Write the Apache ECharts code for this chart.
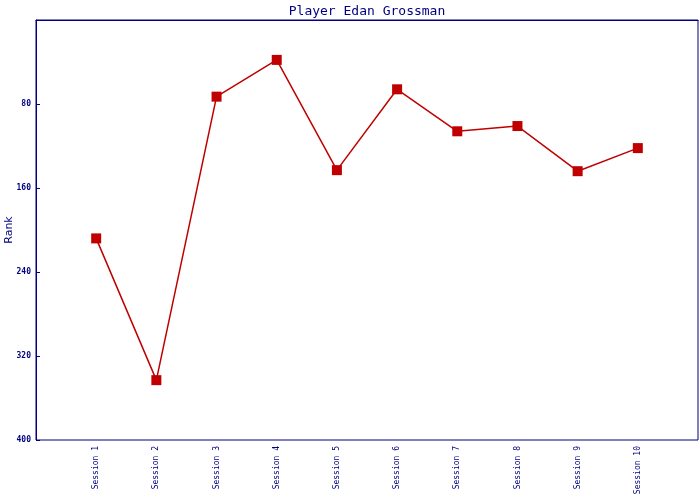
<!DOCTYPE html>
<html><head><meta charset="utf-8">
<script src="https://cdn.jsdelivr.net/npm/echarts@6/dist/echarts.min.js"></script>
<style>html,body{margin:0;padding:0;background:#fff}#c{width:700px;height:500px}</style>
</head><body><div id="c"></div>
<script>
var titleText = 'Player Edan Grossman';
var categories = ['', 'Session 1', 'Session 2', 'Session 3', 'Session 4', 'Session 5', 'Session 6', 'Session 7', 'Session 8', 'Session 9', 'Session 10', ''];
var rankValues = [null, 208, 343, 73, 38, 143, 66, 106, 101, 144, 122, null];
var yName = 'Rank';
var navy = '#000080';
var chart = echarts.init(document.getElementById('c'), null, {renderer: 'canvas'});
chart.setOption({
  animation: false,
  backgroundColor: '#fff',
  title: {text: titleText, left: 362, textAlign: 'center', top: 0,
    textStyle: {fontFamily: 'DejaVu Sans Mono', fontSize: 13, fontWeight: 'normal', color: navy}},
  grid: {left: 36, right: 2, top: 20, bottom: 60, containLabel: false, outerBoundsMode: 'none',
    show: true, borderColor: navy, borderWidth: 1, backgroundColor: '#fff'},
  xAxis: {type: 'category', data: categories, boundaryGap: false,
    axisLine: {lineStyle: {color: navy, width: 1}},
    axisTick: {show: false},
    splitLine: {show: false},
    axisLabel: {rotate: 90, interval: 0, margin: 6, color: navy, fontFamily: 'DejaVu Sans Mono', fontSize: 8}},
  yAxis: {type: 'value', inverse: true, min: 0, max: 400, interval: 80,
    name: yName, nameLocation: 'middle', nameGap: 21, nameRotate: 90, nameMoveOverlap: false,
    nameTextStyle: {color: navy, fontFamily: 'DejaVu Sans', fontSize: 11},
    axisLine: {show: true, lineStyle: {color: navy, width: 1}},
    axisTick: {show: true, inside: true, length: 4, lineStyle: {color: navy}},
    splitLine: {show: false},
    axisLabel: {showMinLabel: false, margin: 5, color: navy, fontFamily: 'DejaVu Sans Mono', fontSize: 8, fontWeight: 'bold'}},
  series: [{type: 'line', data: rankValues, symbol: 'rect', symbolSize: 10,
    lineStyle: {color: '#c00000', width: 1.5}, itemStyle: {color: '#c00000'}}]
});
</script></body></html>
